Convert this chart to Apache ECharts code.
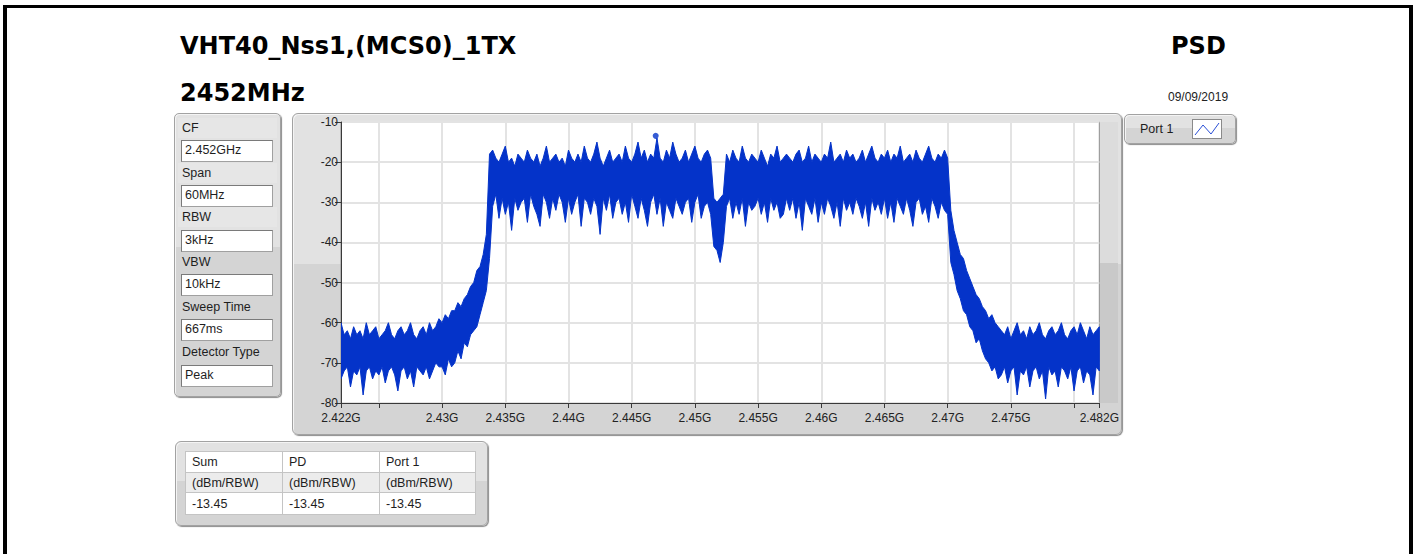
<!DOCTYPE html>
<html>
<head>
<meta charset="utf-8">
<script src="https://cdn.jsdelivr.net/npm/echarts@6.0.0/dist/echarts.min.js"></script>
<style>
  html, body { margin: 0; padding: 0; }
  body { width: 1415px; height: 554px; overflow: hidden; background: #fff; position: relative;
         font-family: 'Liberation Sans', Arial, sans-serif; color: #1a1a1a; }
  .abs { position: absolute; }
  .outer { left: 3px; top: 5px; width: 1402px; height: 600px; border-top: 3px solid #000;
           border-left: 4px solid #000; border-right: 4px solid #000; box-sizing: content-box; }
  .big { font-family: 'DejaVu Sans', sans-serif; font-weight: bold; font-size: 24px; line-height: 24px; color: #000; white-space: nowrap; }
  .date { font-size: 12px; line-height: 12px; color: #222; }
  .panel { border: 1px solid #a2a2a2; border-radius: 5px; box-sizing: border-box;
           box-shadow: 1px 1px 1px #8c8c8c, inset 1px 1px 0 #f4f4f4;
           background: linear-gradient(to bottom, #e2e2e2 0, #e2e2e2 47%, #d4d4d4 47%, #d4d4d4 100%); }
  .lbl { font-size: 12.5px; line-height: 14px; color: #1e1e1e; white-space: nowrap; }
  .strip { background: #e6e6e6; }
  .box { background: #fff; border: 1px solid #a0a0a0; border-top-color: #7a7a7a; border-left-color: #7a7a7a;
         box-sizing: border-box; font-size: 12.5px; line-height: 19px; padding-left: 3px; color: #1e1e1e; }
  #chart { left: 292px; top: 113px; width: 830px; height: 322px; }
  table.res { border-collapse: collapse; font-size: 12.5px; color: #1e1e1e; background: #fff; }
  table.res td { border: 1px solid #c4c4c4; padding: 0 0 0 6px; text-align: left; white-space: nowrap; }
</style>
</head>
<body>
<div class="abs outer"></div>

<div class="abs big" style="left:180px; top:34px;">VHT40_Nss1,(MCS0)_1TX</div>
<div class="abs big" style="left:180px; top:81px;">2452MHz</div>
<div class="abs big" style="left:1171px; top:34px;">PSD</div>
<div class="abs date" style="left:1168px; top:91px;">09/09/2019</div>

<!-- parameter panel -->
<div class="abs panel" style="left:174px; top:113px; width:107px; height:284px;"></div>
<div class="abs strip" style="left:178px; top:118px; width:99px; height:20px;"></div>
<div class="abs strip" style="left:178px; top:163px; width:99px; height:20px;"></div>
<div class="abs strip" style="left:178px; top:207px; width:99px; height:20px;"></div>
<div class="abs lbl" style="left:182px; top:121px;">CF</div>
<div class="abs box" style="left:181px; top:140px; width:92px; height:22px;">2.452GHz</div>
<div class="abs lbl" style="left:182px; top:166px;">Span</div>
<div class="abs box" style="left:181px; top:185px; width:92px; height:22px;">60MHz</div>
<div class="abs lbl" style="left:182px; top:210px;">RBW</div>
<div class="abs box" style="left:181px; top:230px; width:92px; height:22px;">3kHz</div>
<div class="abs lbl" style="left:182px; top:255px;">VBW</div>
<div class="abs box" style="left:181px; top:274px; width:92px; height:22px;">10kHz</div>
<div class="abs lbl" style="left:182px; top:300px;">Sweep Time</div>
<div class="abs box" style="left:181px; top:319px; width:92px; height:22px;">667ms</div>
<div class="abs lbl" style="left:182px; top:345px;">Detector Type</div>
<div class="abs box" style="left:181px; top:365px; width:92px; height:22px;">Peak</div>

<!-- graph frame -->
<div class="abs panel" style="left:292px; top:113px; width:830px; height:322px; border-radius:6px;"></div>
<div class="abs" style="left:1100px; top:122px; width:18px; height:281px;
     background: linear-gradient(to bottom, #dcdcdc 0, #dcdcdc 141px, #c9c9c9 141px, #c9c9c9 100%);"></div>
<div id="chart" class="abs"></div>

<!-- legend -->
<div class="abs panel" style="left:1124px; top:114px; width:112px; height:30px;"></div>
<div class="abs lbl" style="left:1140px; top:122px;">Port 1</div>
<div class="abs" style="left:1192px; top:119px; width:30px; height:20px; background:#fff; border:1px solid #8a8a8a; box-sizing:border-box;">
  <svg width="28" height="18" style="display:block"><polyline points="2,15 10,5 18,14 26,3" fill="none" stroke="#2a4fd6" stroke-width="1"/></svg>
</div>

<!-- result table -->
<div class="abs panel" style="left:175px; top:441px; width:313px; height:85px; border-radius:6px;"></div>
<table class="abs res" style="left:185px; top:451px; width:291px;">
  <tr style="height:21px;"><td style="width:90px;">Sum</td><td style="width:90px;">PD</td><td>Port 1</td></tr>
  <tr style="height:20px; background:#ececec;"><td>(dBm/RBW)</td><td>(dBm/RBW)</td><td>(dBm/RBW)</td></tr>
  <tr style="height:22px;"><td>-13.45</td><td>-13.45</td><td>-13.45</td></tr>
</table>

<script>
// ---- data (frequencies in MHz, levels in dBm) ----
const freqStartMHz = 2422;
const freqStepMHz = 0.25;

// local peak level of the trace in each 0.25 MHz bin (2422.00 ... 2482.00)
const peakLevels = [
  -60,-63,-62,-64,-61,-63,-62,-64,-60,-63, -62,-61,-64,-63,-62,-60,-63,-64,-62,-61,
  -63,-62,-60,-63,-64,-62,-61,-63,-60,-62, -61,-59,
  -60,-58,-59,-57,-57,-55,-56,-54,-53,-51, -50,-47,-46,-43,-38,-18,
  -17,-19,-20,-18,-16,-20,-19,-21,-18,-19,
  -20,-17,-19,-20,-18,-21,-19,-16,-20,-19,
  -18,-20,-19,-21,-17,-19,-20,-18,-20,-16,
  -19,-20,-18,-15,-19,-21,-19,-17,-20,-19,
  -18,-20,-16,-19,-20,-18,-15,-19,-17,-20,
  -18,-19,-14,-19,-20,-17,-19,-15,-18,-20,
  -19,-17,-20,-18,-16,-19,-20,-18,-17,-19,
  -29,-30,-29,-28,
  -18,-20,-17,-19,-20,-16,-19,-20,-18,-19,
  -20,-17,-19,-21,-18,-19,-16,-20,-19,-18,
  -19,-20,-18,-17,-20,-19,-16,-20,-18,-19,
  -20,-18,-19,-15,-20,-19,-18,-20,-17,-19,
  -18,-20,-19,-17,-20,-18,-16,-19,-20,-18,
  -19,-17,-20,-18,-19,-16,-20,-19,-18,-20,
  -17,-19,-20,-18,-16,-19,-20,-18,-19,-17,
  -19,
  -32,-37,-40,-43,-44,-47,-49,-51,-53,-54, -56,-57,-59,-58,-60,-61,
  -62,-63,-61,-64,-62,-60,-63,-62,-64,-61, -63,-62,-60,-63,-64,-62,-61,-63,-62,-60,
  -63,-64,-62,-61,-63,-60,-62,-64,-61,-63, -62,-61
];

// local trough level of the trace in each 0.25 MHz bin (2422.00 ... 2482.00)
const troughLevels = [
  -74,-72,-71,-76,-72,-73,-71,-78,-72,-71, -74,-72,-73,-71,-75,-72,-71,-73,-77,-72,
  -71,-74,-72,-76,-71,-72,-73,-71,-74,-72, -70,-71,
  -71,-73,-69,-71,-70,-67,-69,-65,-66,-63, -62,-61,-58,-55,-52,-44,
  -31,-28,-34,-29,-33,-30,-37,-29,-32,-30,
  -29,-35,-28,-31,-33,-36,-28,-30,-34,-29,
  -32,-28,-30,-35,-29,-33,-30,-28,-36,-29,
  -30,-33,-29,-31,-38,-29,-32,-28,-34,-30,
  -29,-33,-30,-35,-28,-31,-34,-29,-32,-36,
  -30,-28,-33,-29,-36,-30,-32,-34,-29,-31,
  -33,-30,-29,-35,-30,-28,-34,-31,-30,-33,
  -41,-42,-45,-40,
  -31,-29,-34,-30,-33,-29,-36,-30,-32,-31,
  -29,-33,-30,-35,-29,-32,-30,-34,-33,-29,
  -32,-29,-34,-30,-37,-29,-31,-33,-29,-35,
  -30,-33,-29,-31,-34,-30,-36,-29,-32,-30,
  -33,-29,-31,-34,-30,-36,-29,-32,-30,-33,
  -29,-34,-30,-35,-29,-31,-33,-29,-32,-36,
  -30,-29,-33,-31,-35,-29,-31,-34,-30,-32,
  -33,
  -45,-48,-52,-54,-57,-58,-61,-62,-65,-64, -67,-69,-70,-72,-71,-74,
  -73,-71,-75,-72,-71,-78,-72,-73,-71,-76, -72,-71,-74,-72,-79,-71,-73,-72,-76,-71,
  -72,-74,-71,-77,-72,-71,-75,-72,-73,-78, -71,-72
];

const peakMarker = [2446.9, -13.45];

const xRange = [2422, 2482];
const yRange = [-80, -10];
const xTickValues = [2422, 2425, 2430, 2435, 2440, 2445, 2450, 2455, 2460, 2465, 2470, 2475, 2480, 2482];
const xLabelValues = [2422, 2430, 2435, 2440, 2445, 2450, 2455, 2460, 2465, 2470, 2475, 2482];
const xGridValues = [2425, 2430, 2435, 2440, 2445, 2450, 2455, 2460, 2465, 2470, 2475, 2480];

// ---- chart ----
const freqs = peakLevels.map((_, i) => freqStartMHz + i * freqStepMHz);
const traceData = freqs.map((f, i) => [f, peakLevels[i], troughLevels[i]]);

const traceColor = '#0433c9';
const axisFont = { fontFamily: 'Liberation Sans, Arial, sans-serif', fontSize: 12, color: '#222' };

function renderTrace(params, api) {
  if (params.dataIndex !== 0) return null;
  const upper = traceData.map(d => api.coord([d[0], d[1]]));
  const lower = traceData.map(d => api.coord([d[0], d[2]])).reverse();
  return {
    type: 'polygon',
    shape: { points: upper.concat(lower) },
    style: { fill: traceColor, stroke: traceColor, lineWidth: 1 }
  };
}

const chart = echarts.init(document.getElementById('chart'), null, { renderer: 'svg' });
chart.setOption({
  animation: false,
  backgroundColor: 'transparent',
  grid: { left: 49, top: 9, right: 22, bottom: 32, show: true, backgroundColor: '#fff',
          borderColor: '#8c8c8c', borderWidth: 1 },
  xAxis: {
    type: 'value', min: xRange[0], max: xRange[1],
    axisLine: { show: true, lineStyle: { color: '#3a3a3a', width: 1 } },
    axisTick: { show: true, length: 5, lineStyle: { color: '#3a3a3a' }, customValues: xTickValues },
    axisLabel: Object.assign({ margin: 9, customValues: xLabelValues,
      formatter: v => (v / 1000) + 'G' }, axisFont),
    splitLine: { show: false }
  },
  yAxis: {
    type: 'value', min: yRange[0], max: yRange[1], interval: 10,
    axisLine: { show: true, lineStyle: { color: '#3a3a3a', width: 1 } },
    axisTick: { show: true, length: 6, lineStyle: { color: '#3a3a3a' } },
    axisLabel: Object.assign({ margin: 3 }, axisFont),
    splitLine: { show: true, lineStyle: { color: '#e3e3e3', width: 2 } }
  },
  series: [
    {
      name: 'grid', type: 'line', data: [], z: 1, silent: true,
      markLine: {
        z: 1, silent: true, symbol: ['none', 'none'], label: { show: false },
        lineStyle: { color: '#e3e3e3', width: 2, type: 'solid' },
        data: xGridValues.map(v => ({ xAxis: v }))
      }
    },
    {
      name: 'Port 1', type: 'custom', coordinateSystem: 'cartesian2d', z: 3, silent: true,
      clip: true,
      encode: { x: 0, y: [1, 2] },
      data: traceData,
      renderItem: renderTrace
    },
    {
      name: 'marker', type: 'scatter', data: [peakMarker], symbolSize: 6, z: 5, silent: true,
      itemStyle: { color: traceColor }
    }
  ]
});
</script>
</body>
</html>
